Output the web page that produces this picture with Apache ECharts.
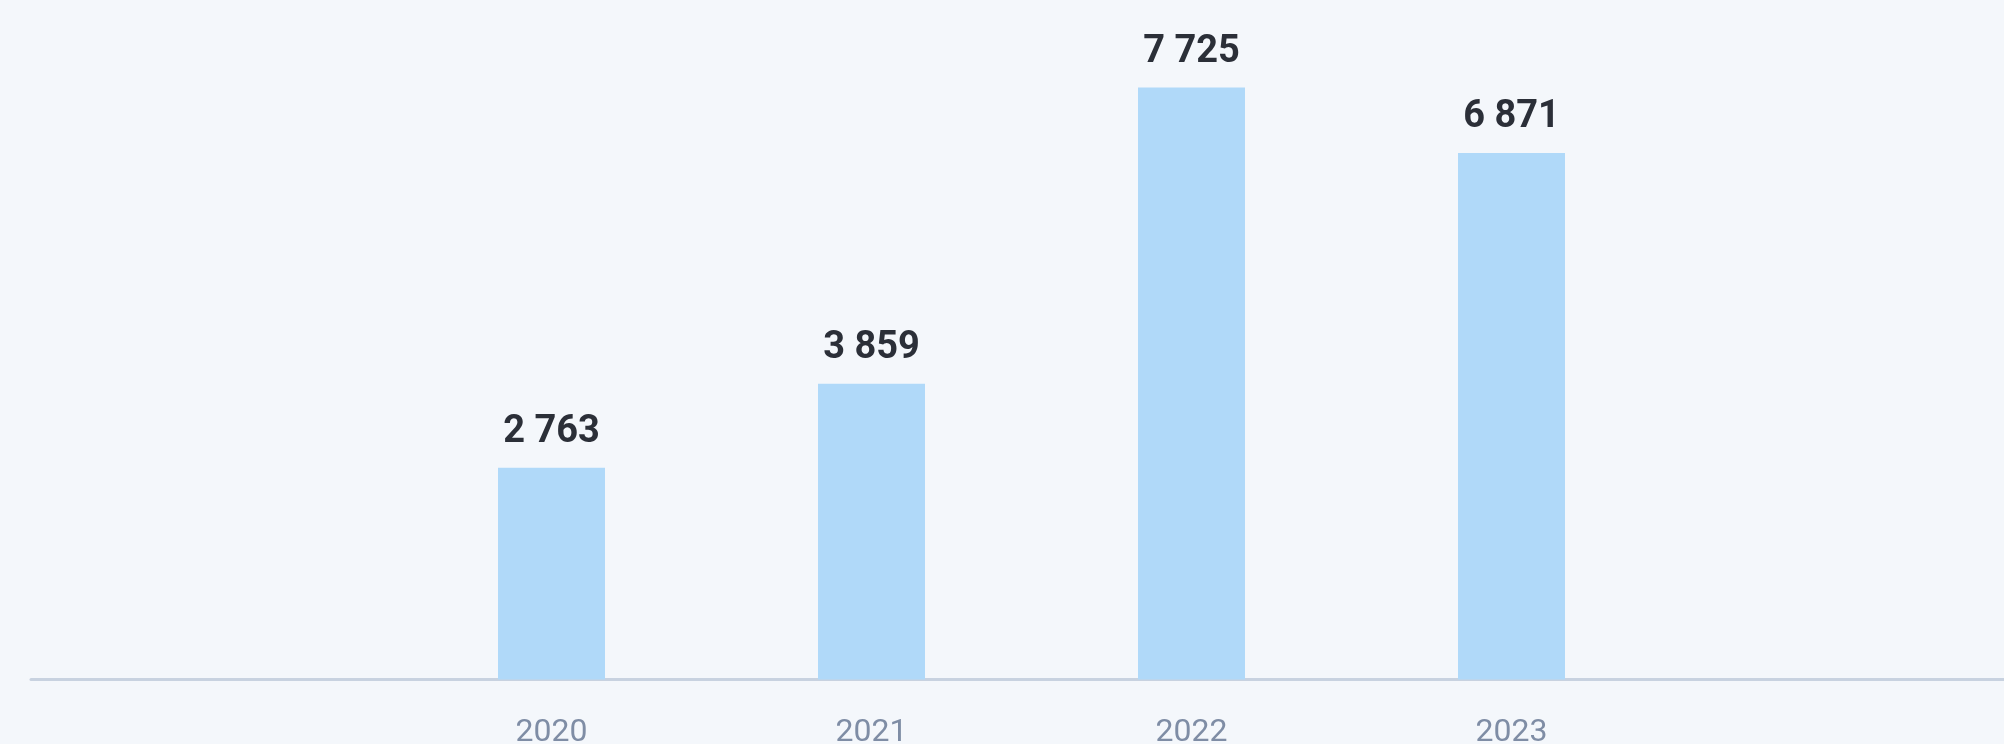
<!DOCTYPE html>
<html>
<head>
<meta charset="utf-8">
<style>
  html, body { margin: 0; padding: 0; background: #f4f7fb; }
  #chart { width: 2004px; height: 744px; }
</style>
<script src="https://cdn.jsdelivr.net/npm/echarts@6/dist/echarts.min.js"></script>
</head>
<body>
<div id="chart"></div>
<script>
// Yearly totals
const years = ['2020', '2021', '2022', '2023'];
const totals = [2763, 3859, 7725, 6871];

// Thousands separated by a non-breaking space, e.g. "7 725"
function groupThousands(v) {
  return String(v).replace(/\B(?=(\d{3})+(?!\d))/g, '\u00a0');
}

const chart = echarts.init(document.getElementById('chart'), null, { renderer: 'canvas' });

chart.setOption({
  backgroundColor: '#f4f7fb',
  animation: false,
  grid: [
    // plot area for the bars
    { left: 391.5, width: 1280, top: 66.4, bottom: 64.5, outerBoundsMode: 'none', containLabel: false },
    // full-width baseline
    { left: 31, right: -40, top: 66.4, bottom: 64.5, outerBoundsMode: 'none', containLabel: false }
  ],
  xAxis: [
    {
      type: 'category',
      gridIndex: 0,
      data: years,
      axisLine: { show: false },
      axisTick: { show: false },
      axisLabel: {
        color: '#7f8da5',
        fontFamily: 'Roboto',
        fontSize: 32,
        margin: 37
      }
    },
    {
      type: 'value',
      gridIndex: 1,
      min: 0,
      max: 1,
      axisLine: { show: true, lineStyle: { color: '#c8d2e0', width: 3 } },
      axisTick: { show: false },
      axisLabel: { show: false },
      splitLine: { show: false }
    }
  ],
  yAxis: [
    {
      type: 'value',
      gridIndex: 0,
      min: 0,
      max: 8000,
      show: false
    },
    {
      type: 'value',
      gridIndex: 1,
      min: 0,
      max: 1,
      show: false
    }
  ],
  series: [
    {
      type: 'bar',
      xAxisIndex: 0,
      yAxisIndex: 0,
      data: totals,
      barWidth: 107,
      itemStyle: { color: '#b0d9f9' },
      label: {
        show: true,
        position: 'top',
        distance: 16,
        color: '#2b2f38',
        fontFamily: 'Roboto',
        fontWeight: 'bold',
        fontSize: 38,
        formatter: p => groupThousands(p.value)
      }
    }
  ]
});
</script>
</body>
</html>
